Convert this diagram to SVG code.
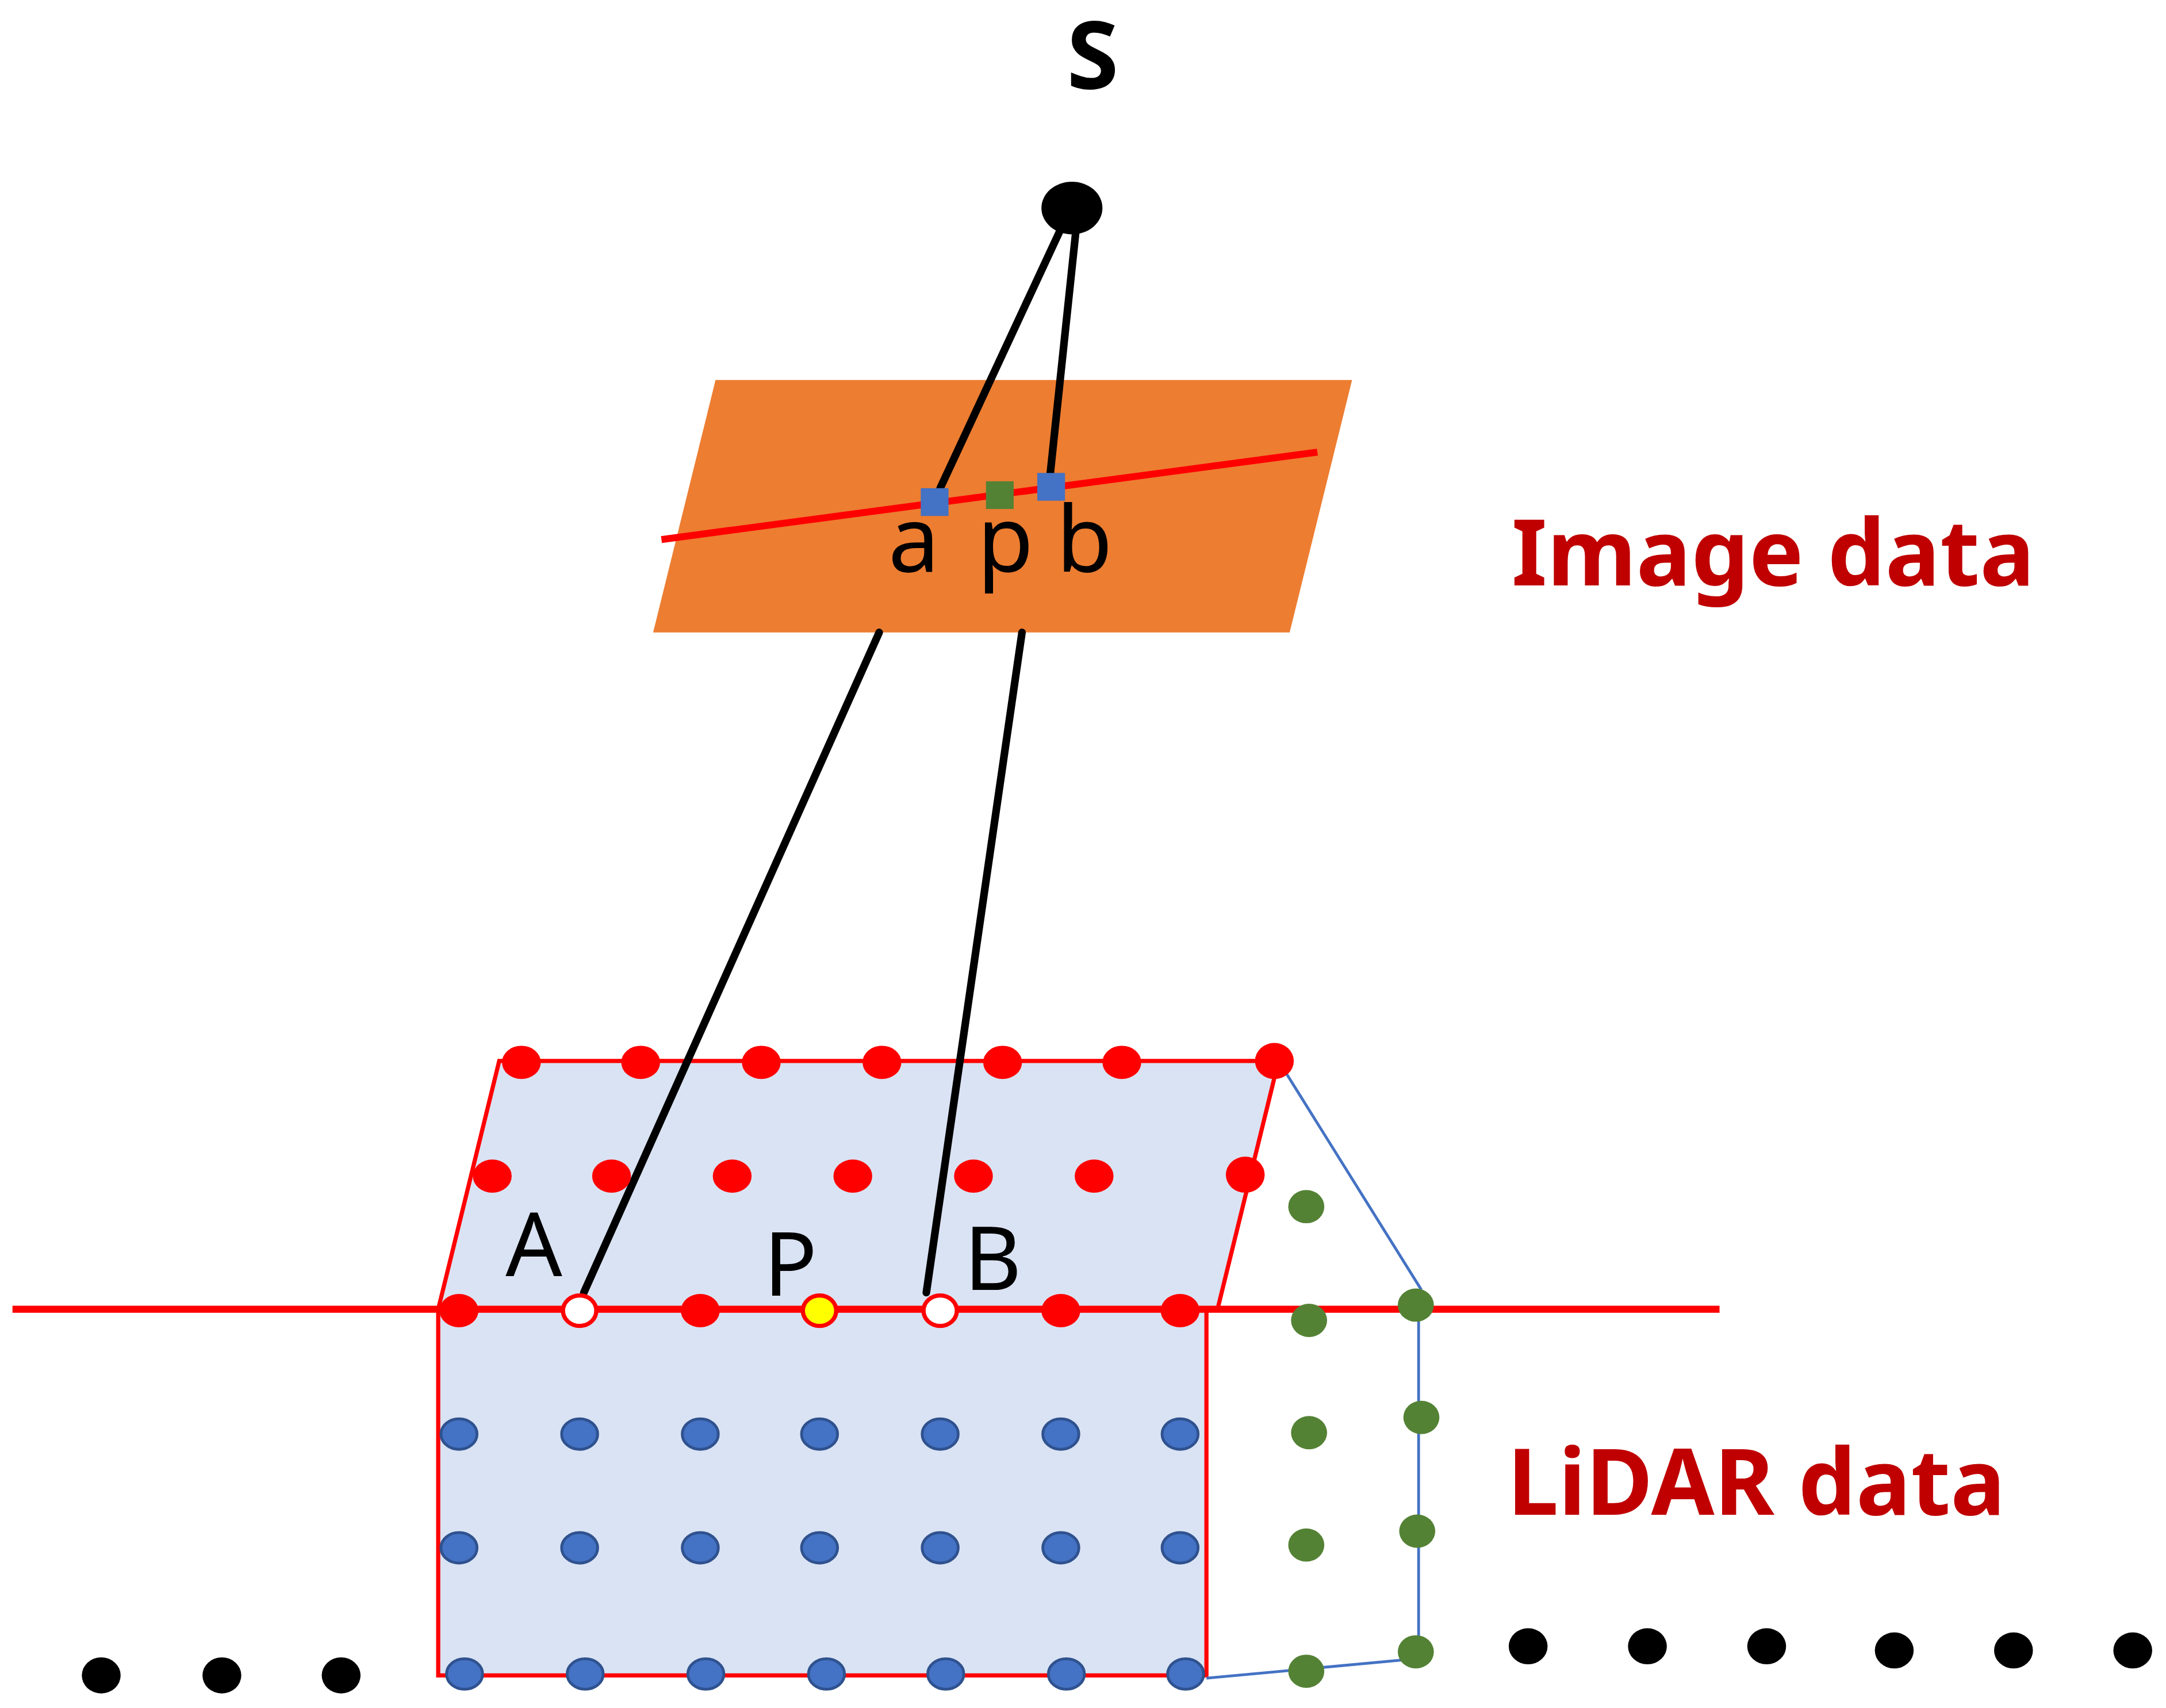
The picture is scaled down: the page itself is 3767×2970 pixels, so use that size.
<svg xmlns="http://www.w3.org/2000/svg" width="3767" height="2970" viewBox="0 0 3767 2970">
<style>
.t{font-family:"Noto Sans","Open Sans",sans-serif;fill:#000}
.lab{font-family:"Noto Sans","Open Sans",sans-serif;font-weight:bold;fill:#C00000}
.ray{stroke:#000;stroke-width:5.5;fill:none;stroke-linecap:round}
.rd{fill:#FF0000}
.bd{fill:#4472C4;stroke:#2F528F;stroke-width:2}
.gd{fill:#548235}
.kd{fill:#000}
.bl{stroke:#4472C4;stroke-width:2;fill:none}
</style>
<rect width="3767" height="2970" fill="#fff"/>
<g transform="scale(2.4117)">
<g id="image-plane">
<polygon points="516,274 975,274 930,456 471,456" fill="#ED7D31"/>
<line x1="477" y1="389" x2="950" y2="326" stroke="#FF0000" stroke-width="5"/>
</g>
<g id="house">
<polygon points="360,765 922,765 878,944 316,944" fill="#DAE3F3" stroke="#FF0000" stroke-width="3"/>
<rect x="316" y="944" width="554" height="264" fill="#DAE3F3" stroke="#FF0000" stroke-width="3"/>
</g>
<g id="connectors">
<line x1="9" y1="944" x2="1240" y2="944" stroke="#FF0000" stroke-width="5"/>
<line class="ray" x1="765" y1="165" x2="678" y2="352"/>
<line class="ray" x1="776" y1="165" x2="757" y2="345"/>
<line class="ray" x1="634" y1="456" x2="421" y2="932"/>
<line class="ray" x1="737" y1="456" x2="668" y2="932"/>
<line class="bl" x1="922" y1="765" x2="1025" y2="930"/>
<line class="bl" x1="1023" y1="941" x2="1023" y2="1191"/>
<line class="bl" x1="870" y1="1210" x2="1021" y2="1196"/>
</g>
<g id="S">
<ellipse cx="773" cy="150" rx="22" ry="19" fill="#000"/>
<text class="t" x="788" y="64" font-size="68" font-weight="bold" text-anchor="middle">S</text>
</g>
<g id="image-points">
<rect x="664" y="352" width="20" height="20" fill="#4472C4"/>
<rect x="711" y="347" width="20" height="20" fill="#548235"/>
<rect x="748" y="341" width="20" height="20" fill="#4472C4"/>
<text class="t" x="659" y="412" font-size="66" text-anchor="middle">a</text>
<text class="t" x="725" y="412" font-size="66" text-anchor="middle">p</text>
<text class="t" x="782" y="412" font-size="66" text-anchor="middle">b</text>
</g>
<g id="red-points">
<ellipse class="rd" cx="376" cy="766" rx="14" ry="12"/><ellipse class="rd" cx="462" cy="766" rx="14" ry="12"/><ellipse class="rd" cx="549" cy="766" rx="14" ry="12"/><ellipse class="rd" cx="636" cy="766" rx="14" ry="12"/><ellipse class="rd" cx="723" cy="766" rx="14" ry="12"/><ellipse class="rd" cx="809" cy="766" rx="14" ry="12"/><ellipse class="rd" cx="919" cy="765" rx="14" ry="13"/>
<ellipse class="rd" cx="355" cy="848" rx="14" ry="12"/><ellipse class="rd" cx="441" cy="848" rx="14" ry="12"/><ellipse class="rd" cx="528" cy="848" rx="14" ry="12"/><ellipse class="rd" cx="615" cy="848" rx="14" ry="12"/><ellipse class="rd" cx="702" cy="848" rx="14" ry="12"/><ellipse class="rd" cx="789" cy="848" rx="14" ry="12"/><ellipse class="rd" cx="898" cy="847" rx="14" ry="13"/>
<ellipse class="rd" cx="331" cy="945" rx="14" ry="12"/>
<ellipse cx="418" cy="945" rx="12" ry="11" fill="#fff" stroke="#FF0000" stroke-width="3"/>
<ellipse class="rd" cx="505" cy="945" rx="14" ry="12"/>
<ellipse cx="591" cy="945" rx="12" ry="11" fill="#FFFF00" stroke="#FF0000" stroke-width="3"/>
<ellipse cx="678" cy="945" rx="12" ry="11" fill="#fff" stroke="#FF0000" stroke-width="3"/>
<ellipse class="rd" cx="765" cy="945" rx="14" ry="12"/><ellipse class="rd" cx="851" cy="945" rx="14" ry="12"/>
<text class="t" x="385" y="920" font-size="64" text-anchor="middle">A</text>
<text class="t" x="570" y="934" font-size="64" text-anchor="middle">P</text>
<text class="t" x="716" y="930" font-size="64" text-anchor="middle">B</text>
</g>
<g id="blue-points">
<ellipse class="bd" cx="331" cy="1034" rx="13" ry="11"/><ellipse class="bd" cx="418" cy="1034" rx="13" ry="11"/><ellipse class="bd" cx="505" cy="1034" rx="13" ry="11"/><ellipse class="bd" cx="591" cy="1034" rx="13" ry="11"/><ellipse class="bd" cx="678" cy="1034" rx="13" ry="11"/><ellipse class="bd" cx="765" cy="1034" rx="13" ry="11"/><ellipse class="bd" cx="851" cy="1034" rx="13" ry="11"/>
<ellipse class="bd" cx="331" cy="1116" rx="13" ry="11"/><ellipse class="bd" cx="418" cy="1116" rx="13" ry="11"/><ellipse class="bd" cx="505" cy="1116" rx="13" ry="11"/><ellipse class="bd" cx="591" cy="1116" rx="13" ry="11"/><ellipse class="bd" cx="678" cy="1116" rx="13" ry="11"/><ellipse class="bd" cx="765" cy="1116" rx="13" ry="11"/><ellipse class="bd" cx="851" cy="1116" rx="13" ry="11"/>
<ellipse class="bd" cx="335" cy="1207" rx="13" ry="11"/><ellipse class="bd" cx="422" cy="1207" rx="13" ry="11"/><ellipse class="bd" cx="509" cy="1207" rx="13" ry="11"/><ellipse class="bd" cx="596" cy="1207" rx="13" ry="11"/><ellipse class="bd" cx="682" cy="1207" rx="13" ry="11"/><ellipse class="bd" cx="769" cy="1207" rx="13" ry="11"/><ellipse class="bd" cx="855" cy="1207" rx="13" ry="11"/>
</g>
<g id="green-points">
<ellipse class="gd" cx="942" cy="870" rx="13" ry="12"/><ellipse class="gd" cx="944" cy="952" rx="13" ry="12"/><ellipse class="gd" cx="944" cy="1033" rx="13" ry="12"/><ellipse class="gd" cx="942" cy="1114" rx="13" ry="12"/><ellipse class="gd" cx="942" cy="1205" rx="13" ry="12"/>
<ellipse class="gd" cx="1021" cy="941" rx="13" ry="12"/><ellipse class="gd" cx="1025" cy="1022" rx="13" ry="12"/><ellipse class="gd" cx="1022" cy="1104" rx="13" ry="12"/><ellipse class="gd" cx="1021" cy="1191" rx="13" ry="12"/>
</g>
<g id="ground-points">
<ellipse class="kd" cx="73" cy="1208" rx="14" ry="13"/><ellipse class="kd" cx="160" cy="1208" rx="14" ry="13"/><ellipse class="kd" cx="246" cy="1208" rx="14" ry="13"/>
<ellipse class="kd" cx="1102" cy="1187" rx="14" ry="13"/><ellipse class="kd" cx="1188" cy="1187" rx="14" ry="13"/><ellipse class="kd" cx="1274" cy="1187" rx="14" ry="13"/><ellipse class="kd" cx="1366" cy="1190" rx="14" ry="13"/><ellipse class="kd" cx="1452" cy="1190" rx="14" ry="13"/><ellipse class="kd" cx="1538" cy="1190" rx="14" ry="13"/>
</g>
<g id="labels">
<text class="lab" x="1090" y="422" font-size="66">Image data</text>
<text class="lab" x="1087" y="1092" font-size="66">LiDAR data</text>
</g>
</g>
</svg>
